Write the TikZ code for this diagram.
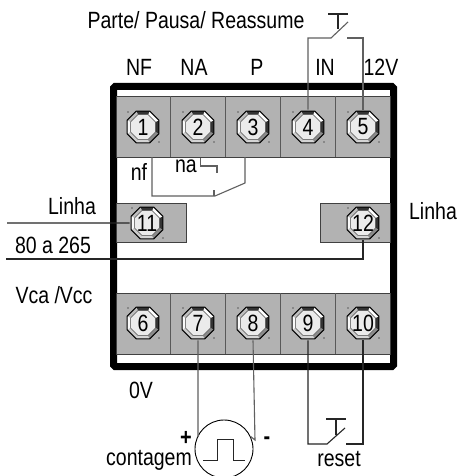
\documentclass[tikz,border=0pt]{standalone}
\usepackage{fontspec}
\setmainfont[FakeStretch=0.83]{Liberation Sans}
\usetikzlibrary{shapes.geometric,calc}
\definecolor{blockgray}{HTML}{B2B2B2}
\definecolor{wiregray}{HTML}{606060}
\tikzset{
  x=1pt,y=-1pt,
  block/.style={fill=blockgray,draw=black!75,line width=1pt},
  divider/.style={draw=black!65,line width=1.1pt},
  wire/.style={draw=wiregray,line width=1.1pt},
  darkwire/.style={draw=black!85,line width=1.1pt},
  lab/.style={font=\fontsize{23.5}{23.5}\selectfont,inner sep=0pt},
  boldlab/.style={font=\fontsize{24}{24}\selectfont\bfseries,inner sep=0pt},
  num/.style={regular polygon,regular polygon sides=8,shape border rotate=22.5,
    minimum size=34.5pt,inner sep=0pt,font=\fontsize{23.5}{23.5}\selectfont},
}
% \screw{name}{x}{y}{text}
\newcommand{\screw}[4]{%
  \begin{scope}[shift={(#2,#3)}]
    \def\Ro{17.3}\def\Ri{13.4}%
    \foreach \a/\c in {-22.5/333333,-67.5/FFFFFF,-112.5/333333,-157.5/BDBDBD,157.5/FAFAFA,112.5/CCCCCC,67.5/D5D5D5,22.5/8A8A8A}{%
      \definecolor{bevc}{HTML}{\c}%
      \fill[fill=bevc] (\a:\Ro) -- (\a+45:\Ro) -- (\a+45:\Ri) -- (\a:\Ri) -- cycle;
    }
    \draw[black,line width=1pt,line join=round] (22.5:\Ro) -- (67.5:\Ro) -- (112.5:\Ro) -- (157.5:\Ro) -- (202.5:\Ro) -- (247.5:\Ro) -- (292.5:\Ro) -- (337.5:\Ro) -- cycle;
    \fill[black] (-15,-15) circle (.7pt) (16,15) circle (.7pt);
    \fill[fill=black!8] (22.5:\Ri) -- (67.5:\Ri) -- (112.5:\Ri) -- (157.5:\Ri) -- (202.5:\Ri) -- (247.5:\Ri) -- (292.5:\Ri) -- (337.5:\Ri) -- cycle;
    \draw[black!70,line width=.5pt] (22.5:\Ri) -- (67.5:\Ri) -- (112.5:\Ri) -- (157.5:\Ri) -- (202.5:\Ri) -- (247.5:\Ri) -- (292.5:\Ri) -- (337.5:\Ri) -- cycle;
  \end{scope}
  \node[num] (#1) at (#2,#3) {#4};
}
\begin{document}
\begin{tikzpicture}
\useasboundingbox (0,0) rectangle (459,476);
\begin{scope}
\clip (0,0) rectangle (459,476);
\fill[white] (0,0) rectangle (459,476);
% frame
\draw[line width=7pt,rounded corners=1.5pt,draw=black,fill=white] (113.5,86.5) rectangle (393.5,366.5);
% terminal strips
\draw[block] (116,96.5) rectangle (390,157);
\draw[block] (116,293) rectangle (390,354);
\foreach \x in {170.5,225.5,280.5,335.5}{
  \draw[divider] (\x,96.5) -- (\x,157);
  \draw[divider] (\x,293) -- (\x,354);
}
\draw[block] (116,203) rectangle (186,242);
\draw[block] (320,203) rectangle (390,242);
% terminals
\screw{t1}{143}{127}{1}
\screw{t2}{198}{127}{2}
\screw{t3}{253}{127}{3}
\screw{t4}{308}{127}{4}
\screw{t5}{363}{127}{5}
\screw{t6}{143}{323}{6}
\screw{t7}{198}{323}{7}
\screw{t8}{253}{323}{8}
\screw{t9}{308}{323}{9}
\screw{t10}{363}{323}{10}
\screw{t11}{147}{223}{11}
\screw{t12}{363}{223}{12}
% free ends
\coordinate (swA1) at (331,38);
\coordinate (swA2) at (348,22);
\coordinate (swA3) at (347,38);
\coordinate (capAl) at (328,14);
\coordinate (capAr) at (348,14);
\coordinate (capAs) at (338,14);
\coordinate (capAe) at (338,29);
\coordinate (lineL) at (7,223);
\coordinate (lineN) at (6,259);
\coordinate (swB1) at (327,444);
\coordinate (swB2) at (345,428);
\coordinate (swB3) at (346,444);
\coordinate (capBl) at (326,419);
\coordinate (capBr) at (346,419);
\coordinate (capBs) at (336,419);
\coordinate (capBe) at (336,435);
% push button Parte
\draw[wire] (t4.north) -- (t4.north |- swA1) -- (swA1) -- (swA2);
\draw[wire] (t5.north) -- (t5.north |- swA3) -- (swA3);
\draw[darkwire] (capAl) -- (capAr) (capAs) -- (capAe);
% relay contact
\draw[wire] (152,157) -- (152,196) -- (215,196) -- (245,183) -- (245,157);
\draw[wire] (214,190) -- (214,196);
\draw[wire] (200.7,157.5) -- (200.7,166) -- (217,166) -- (217,173);
% line inputs
\draw[darkwire] (lineL) -- (t11.west);
\draw[darkwire] (lineN) -- (lineN -| t12.south) -- (t12.south);
% pulse source
\node[circle,draw=black,line width=.9pt,minimum size=58pt,inner sep=0pt] (src) at (224,449) {};
\draw[wire] (t7.south) -- (198,437) -- (src.150);
\draw[wire] (t8.south) -- (255,440) -- (src.25);
\draw[black!85,line width=1pt] (203,460) -- (217,460) -- (217,439) -- (233,439) -- (233,460) -- (245,460);
% reset button
\draw[darkwire] (t9.south) -- (t9.south |- swB1) -- (swB1) -- (swB2);
\draw[darkwire] (t10.south) -- (t10.south |- swB3) -- (swB3);
\draw[darkwire] (capBl) -- (capBr) (capBs) -- (capBe);
% labels
\node[lab] (lPar) at (196,20) {Parte/ Pausa/ Reassume};
\node[lab] (lNF) at (139,67) {NF};
\node[lab] (lNA) at (194,67) {NA};
\node[lab] (lP) at (257,67) {P};
\node[lab] (lIN) at (325,67) {IN};
\node[lab] (l12) at (381,67) {12V};
\node[lab] (lnf) at (139,172) {nf};
\node[lab] (lna) at (186,166) {na};
\node[lab] (lLi) at (72,206) {Linha};
\node[lab] (l80) at (53,245) {80 a 265};
\node[lab] (lVca) at (54,295) {Vca /Vcc};
\node[lab] (lLir) at (433,211) {Linha};
\node[lab] (l0V) at (141,390) {0V};
\node[boldlab] (lplus) at (186,438) {+};
\node[boldlab] (lminus) at (267,441) {-};
\node[lab] (lcont) at (149,460) {contagem};
\node[lab] (lres) at (339,459) {reset};
\end{scope}
\end{tikzpicture}
\end{document}
